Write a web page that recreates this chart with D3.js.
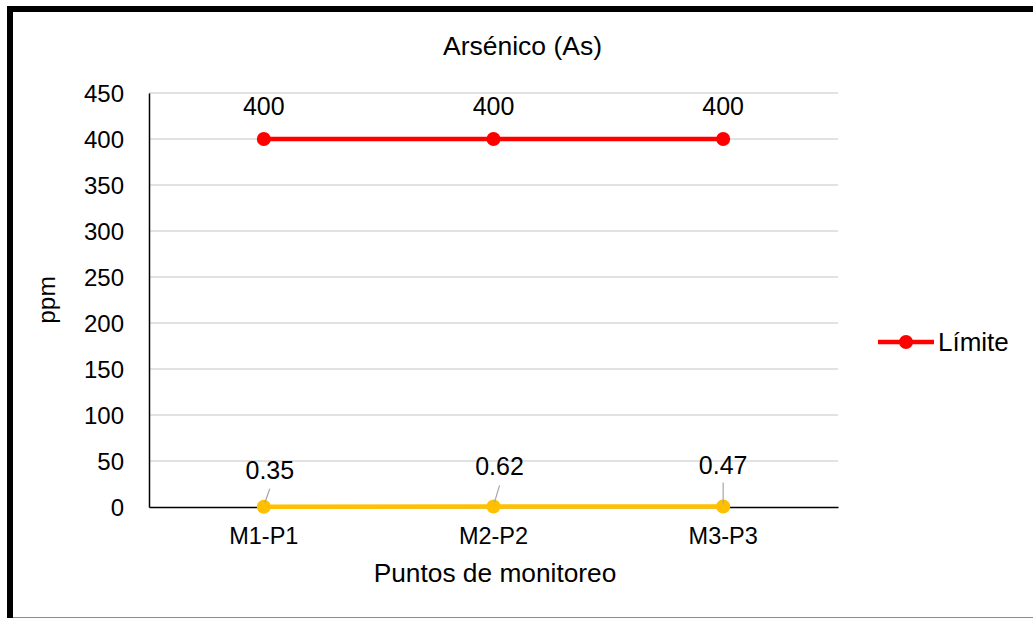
<!DOCTYPE html>
<html>
<head>
<meta charset="utf-8">
<script src="https://cdn.jsdelivr.net/npm/d3@7"></script>
<style>
  html, body { margin: 0; padding: 0; background: #fff; }
  svg { display: block; font-family: "Liberation Sans", Arial, sans-serif; }
</style>
</head>
<body>
<svg id="chart" width="1033" height="618"></svg>
<script>
// Arsenic concentration per monitoring point vs. regulatory limit (ppm)
const categories = ["M1-P1", "M2-P2", "M3-P3"];
const limitValues = [400, 400, 400];
const measuredValues = [0.35, 0.62, 0.47];
const yTicks = [0, 50, 100, 150, 200, 250, 300, 350, 400, 450];
const titleText = "Arsénico (As)";
const xTitle = "Puntos de monitoreo";
const yTitle = "ppm";
const legendLabel = "Límite";

// Leader-line label placement for the small measured values (pixels from marker)
const measuredLabelOffsets = [[6, -28], [6, -31], [0, -33]];
const measuredLeaderStart = [[1, -4], [1, -4], [0, -2]];
const measuredLeaderEnd = [[6, -18], [6, -21], [0, -24]];

const W = 1033, H = 618;
const plot = { left: 149, right: 838, top: 93, bottom: 507 };

const svg = d3.select("#chart");

// Outer frame: heavy black border cropped at right/bottom, thin gray bottom edge
svg.append("rect")
  .attr("x", 10).attr("y", 9)
  .attr("width", W + 20).attr("height", H + 20)
  .attr("fill", "#fff")
  .attr("stroke", "#000").attr("stroke-width", 6);
svg.append("line")
  .attr("x1", 13).attr("x2", W)
  .attr("y1", 617.5).attr("y2", 617.5)
  .attr("stroke", "#8c8c8c").attr("stroke-width", 1);

const x = d3.scaleBand().domain(categories).range([plot.left, plot.right]);
const cx = d => x(d) + x.bandwidth() / 2;
const y = d3.scaleLinear().domain([0, 450]).range([plot.bottom, plot.top]);

// Horizontal gridlines
svg.append("g").selectAll("line")
  .data(yTicks.filter(t => t > 0))
  .join("line")
  .attr("x1", plot.left).attr("x2", plot.right)
  .attr("y1", d => y(d)).attr("y2", d => y(d))
  .attr("stroke", "#d9d9d9").attr("stroke-width", 1.6);

// Y axis
const yAxis = svg.append("g")
  .attr("transform", `translate(${plot.left},0)`)
  .call(d3.axisLeft(y).tickValues(yTicks).tickSize(0).tickPadding(25).tickFormat(d3.format("d")));
yAxis.select(".domain").attr("stroke", "#000").attr("stroke-width", 1.5);
yAxis.selectAll("text")
  .attr("font-size", 24).attr("fill", "#000")
  .attr("font-family", "Liberation Sans, Arial, sans-serif")
  .attr("dy", "0.36em");

// X axis
const xAxis = svg.append("g")
  .attr("transform", `translate(0,${plot.bottom})`)
  .call(d3.axisBottom(x).tickSize(0).tickPadding(20));
xAxis.select(".domain").attr("stroke", "#000").attr("stroke-width", 1.5);
xAxis.selectAll("text")
  .attr("font-size", 23.5).attr("fill", "#000")
  .attr("font-family", "Liberation Sans, Arial, sans-serif");

// Titles
svg.append("text")
  .attr("x", 522.5).attr("y", 55)
  .attr("text-anchor", "middle").attr("font-size", 26.5).attr("fill", "#000")
  .text(titleText);
svg.append("text")
  .attr("x", 495).attr("y", 582)
  .attr("text-anchor", "middle").attr("font-size", 26.3).attr("fill", "#000")
  .text(xTitle);
svg.append("text")
  .attr("transform", `translate(48,300) rotate(-90)`)
  .attr("text-anchor", "middle").attr("dy", "0.3em")
  .attr("font-size", 24.5).attr("fill", "#000")
  .text(yTitle);

const line = d3.line().x(d => cx(d.c)).y(d => y(d.v));

// Measured series (yellow)
const measured = categories.map((c, i) => ({ c, v: measuredValues[i] }));
svg.append("path")
  .datum(measured)
  .attr("d", line)
  .attr("fill", "none").attr("stroke", "#ffc000").attr("stroke-width", 4.5);
svg.append("g").selectAll("circle")
  .data(measured).join("circle")
  .attr("cx", d => cx(d.c)).attr("cy", d => y(d.v)).attr("r", 7)
  .attr("fill", "#ffc000");

// Leader lines and labels for measured values
svg.append("g").selectAll("line")
  .data(measured).join("line")
  .attr("x1", (d, i) => cx(d.c) + measuredLeaderStart[i][0])
  .attr("y1", (d, i) => y(d.v) + measuredLeaderStart[i][1])
  .attr("x2", (d, i) => cx(d.c) + measuredLeaderEnd[i][0])
  .attr("y2", (d, i) => y(d.v) + measuredLeaderEnd[i][1])
  .attr("stroke", "#a6a6a6").attr("stroke-width", 1.2);
svg.append("g").selectAll("text")
  .data(measured).join("text")
  .attr("x", (d, i) => cx(d.c) + measuredLabelOffsets[i][0])
  .attr("y", (d, i) => y(d.v) + measuredLabelOffsets[i][1])
  .attr("text-anchor", "middle").attr("font-size", 25).attr("fill", "#000")
  .text(d => d.v.toString());

// Limit series (red)
const limit = categories.map((c, i) => ({ c, v: limitValues[i] }));
svg.append("path")
  .datum(limit)
  .attr("d", line)
  .attr("fill", "none").attr("stroke", "#ff0000").attr("stroke-width", 4.5);
svg.append("g").selectAll("circle")
  .data(limit).join("circle")
  .attr("cx", d => cx(d.c)).attr("cy", d => y(d.v)).attr("r", 7)
  .attr("fill", "#ff0000");
svg.append("g").selectAll("text")
  .data(limit).join("text")
  .attr("x", d => cx(d.c)).attr("y", d => y(d.v) - 24)
  .attr("text-anchor", "middle").attr("font-size", 25).attr("fill", "#000")
  .text(d => d.v);

// Legend
const lg = svg.append("g").attr("transform", "translate(878,342)");
lg.append("line").attr("x1", 0).attr("x2", 56).attr("y1", 0).attr("y2", 0)
  .attr("stroke", "#ff0000").attr("stroke-width", 4.5);
lg.append("circle").attr("cx", 28).attr("cy", 0).attr("r", 7).attr("fill", "#ff0000");
lg.append("text").attr("x", 60).attr("y", 9)
  .attr("font-size", 26).attr("fill", "#000")
  .text(legendLabel);
</script>
</body>
</html>
